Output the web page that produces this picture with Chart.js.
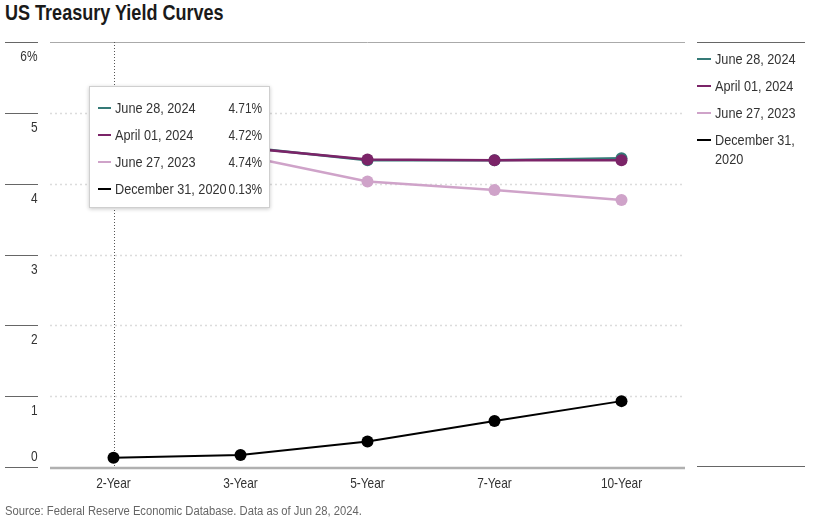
<!DOCTYPE html>
<html><head><meta charset="utf-8">
<script src="https://cdn.jsdelivr.net/npm/chart.js@4.4.1/dist/chart.umd.min.js"></script>
<style>
html,body{margin:0;padding:0;background:#fff;}
body{width:816px;height:520px;position:relative;overflow:hidden;font-family:"Liberation Sans",Arial,sans-serif;color:#333;}
.sx{display:inline-block;white-space:nowrap;transform:scaleX(0.82);transform-origin:0 0;}
.sxr{display:inline-block;white-space:nowrap;transform:scaleX(0.82);transform-origin:100% 0;}
#title{position:absolute;left:5px;top:1px;font-size:22px;line-height:24px;font-weight:bold;color:#1a1a1a;}
#source{position:absolute;left:5px;top:503px;font-size:13.7px;line-height:15px;color:#666;}
#wrap{position:absolute;left:0;top:0;width:816px;height:520px;}
#legend{position:absolute;left:697px;top:42px;width:108px;border-top:1px solid #666;padding-top:6px;}
#legendBottom{position:absolute;left:697px;top:466px;width:108px;border-top:1px solid #666;}
.litem{position:relative;margin-bottom:8px;}
.litem .mk{position:absolute;left:0;top:8.5px;width:14px;height:2.5px;}
.litem .lb{display:block;margin-left:18px;width:112px;font-size:15.5px;line-height:19px;color:#333;white-space:normal;transform:scaleX(0.82);transform-origin:0 0;}
#tooltip{position:absolute;display:none;width:179px;background:#fff;border:1px solid #cfcfcf;box-shadow:0 1px 4px rgba(0,0,0,0.22);}
#tooltip .row{position:absolute;left:0;right:0;height:19px;}
#tooltip .mk{position:absolute;left:8px;top:8.5px;width:13px;height:2.5px;}
#tooltip .lb{position:absolute;left:25px;top:0;font-size:15.5px;line-height:19px;color:#333;}
#tooltip .vl{position:absolute;right:6px;top:1px;font-size:14.5px;line-height:18px;color:#333;}
</style></head>
<body>
<div id="title"><span class="sx">US Treasury Yield Curves</span></div>
<div id="wrap"><canvas id="c" width="816" height="520"></canvas></div>
<div id="legend"></div>
<div id="legendBottom"></div>
<div id="tooltip"></div>
<div id="source"><span class="sx">Source: Federal Reserve Economic Database. Data as of Jun 28, 2024.</span></div>
<script>
const categories = ['2-Year','3-Year','5-Year','7-Year','10-Year'];
const seriesNames = ['June 28, 2024','April 01, 2024','June 27, 2023','December 31, 2020'];
const jun2024 = [4.71,4.52,4.33,4.33,4.36];
const apr2024 = [4.72,4.51,4.34,4.33,4.33];
const jun2023 = [4.74,4.40,4.03,3.91,3.77];
const dec2020 = [0.13,0.17,0.36,0.65,0.93];
const yTicks = [0,1,2,3,4,5,6];
const seriesColors = ['#357a77','#7b2468','#cfa3c9','#000000'];
const activeCategory = 0;
const FONT = '"Liberation Sans",Arial,sans-serif';
const NARROW = 0.82;

const allSeries = [jun2024, apr2024, jun2023, dec2020];
const drawOrder = [1,0,2,3];

const datasets = allSeries.map((vals,i)=>({
  label: seriesNames[i],
  data: vals,
  borderColor: seriesColors[i],
  backgroundColor: seriesColors[i],
  pointBackgroundColor: seriesColors[i],
  pointBorderWidth: 0,
  pointRadius: 6,
  pointHoverRadius: 6,
  pointHoverBorderWidth: 0,
  borderWidth: i===3 ? 2 : 2.5,
  tension: 0,
  order: drawOrder[i]
}));

function narrowText(ctx, text, x, y, align){
  ctx.save();
  ctx.translate(x, y);
  ctx.scale(NARROW, 1);
  ctx.textAlign = align;
  ctx.textBaseline = 'alphabetic';
  ctx.fillText(text, 0, 0);
  ctx.restore();
}

const gridPlugin = {
  id:'gridPlugin',
  beforeDatasetsDraw(chart){
    const ctx = chart.ctx, y = chart.scales.y, x = chart.scales.x, a = chart.chartArea;
    ctx.save();
    yTicks.forEach(v=>{
      const py = Math.round(y.getPixelForValue(v)) + 0.5;
      ctx.strokeStyle = '#666'; ctx.lineWidth = 1; ctx.setLineDash([]);
      ctx.beginPath(); ctx.moveTo(5,py); ctx.lineTo(38,py); ctx.stroke();
      if (v === y.max) {
        ctx.strokeStyle = '#aaa'; ctx.lineWidth = 1;
        ctx.beginPath(); ctx.moveTo(a.left,py); ctx.lineTo(a.right,py); ctx.stroke();
      } else if (v !== y.min) {
        ctx.strokeStyle = '#dcdcdc'; ctx.lineWidth = 1.5; ctx.setLineDash([2,3]);
        ctx.beginPath(); ctx.moveTo(a.left,py); ctx.lineTo(a.right,py); ctx.stroke();
        ctx.setLineDash([]);
      }
      ctx.fillStyle = '#333';
      ctx.font = '14.5px ' + FONT;
      const label = v === y.max ? v + '%' : String(v);
      narrowText(ctx, label, 37.5, v === y.min ? py - 7 : py + 18.5, 'right');
    });
    ctx.fillStyle = '#333';
    ctx.font = '14.5px ' + FONT;
    categories.forEach((c,i)=>{
      narrowText(ctx, c, x.getPixelForValue(i), a.bottom + 21, 'center');
    });
    const act = chart.getActiveElements();
    if (act.length) {
      const px = Math.round(act[0].element.x) + 0.5;
      ctx.strokeStyle = '#555'; ctx.lineWidth = 1; ctx.setLineDash([1,2]);
      ctx.beginPath(); ctx.moveTo(px,a.top); ctx.lineTo(px,a.bottom+3); ctx.stroke();
      ctx.setLineDash([]);
    }
    ctx.restore();
  },
  afterDatasetsDraw(chart){
    const ctx = chart.ctx, y = chart.scales.y, a = chart.chartArea;
    const py = y.getPixelForValue(y.min);
    ctx.save();
    ctx.strokeStyle = '#b0b0b0'; ctx.lineWidth = 2.5;
    ctx.beginPath(); ctx.moveTo(a.left,py+1); ctx.lineTo(a.right,py+1); ctx.stroke();
    ctx.restore();
  }
};

function externalTooltip(context){
  const tt = context.tooltip;
  const el = document.getElementById('tooltip');
  if (tt.opacity === 0 || !tt.dataPoints) { el.style.display='none'; return; }
  const items = tt.dataPoints.slice().sort((p,q)=>p.datasetIndex-q.datasetIndex);
  el.innerHTML = items.map((it,k)=>'<div class="row" style="top:'+(11+27*k)+'px"><span class="mk" style="background:'+it.dataset.borderColor+'"></span><span class="lb sx">'+it.dataset.label+'</span><span class="vl sxr">'+it.parsed.y.toFixed(2)+'%</span></div>').join('');
  el.style.height = (11 + 27*items.length - 8 + 9) + 'px';
  el.style.left = (tt.caretX - 25) + 'px';
  el.style.top = (context.chart.chartArea.top + 44) + 'px';
  el.style.display = 'block';
}

const chart = new Chart(document.getElementById('c'), {
  type:'line',
  data:{ labels: categories, datasets },
  options:{
    responsive:false,
    animation:false,
    events:[],
    layout:{ padding:{ left:50, right:131, top:42, bottom:23 } },
    interaction:{ mode:'index', intersect:false },
    plugins:{
      legend:{ display:false },
      tooltip:{ enabled:false, mode:'index', intersect:false, external: externalTooltip }
    },
    scales:{
      x:{
        offset:true,
        grid:{ display:false },
        border:{ display:false },
        ticks:{ display:false },
        afterFit(s){ s.height = 30; }
      },
      y:{
        display:false,
        min:0, max:6,
        ticks:{ stepSize:1 }
      }
    }
  },
  plugins:[gridPlugin]
});

document.getElementById('legend').innerHTML = chart.data.datasets.map(d=>'<div class="litem"><span class="mk" style="background:'+d.borderColor+'"></span><span class="lb">'+d.label+'</span></div>').join('');

const els = chart.data.datasets.map((d,i)=>({datasetIndex:i, index:activeCategory}));
chart.setActiveElements(els);
const m = chart.getDatasetMeta(3).data[activeCategory];
chart.tooltip.setActiveElements(els, {x:m.x, y:m.y});
chart.update();
</script>
</body></html>
